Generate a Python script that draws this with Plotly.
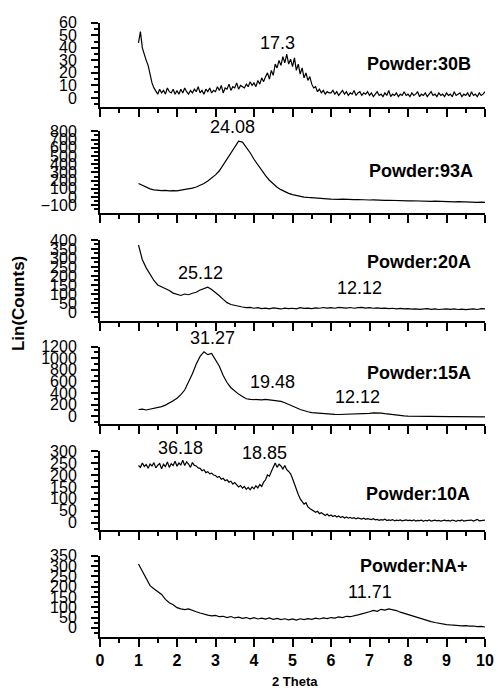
import plotly.graph_objects as go

# ---------------- data ----------------
two_theta_fine = [round(1.0 + 0.05 * i, 2) for i in range(181)]   # 1.00 .. 10.00 step 0.05
two_theta = [round(1.0 + 0.1 * i, 1) for i in range(91)]           # 1.0 .. 10.0 step 0.1

counts_30B = [
    44, 53, 40, 34, 30, 26, 18, 12, 8, 5, 3, 7, 4, 6, 3, 8, 5, 4, 7, 3,
    6, 3, 7, 4, 8, 5, 3, 6, 4, 7, 5, 9, 4, 6, 3, 7, 5, 8, 4, 6,
    5, 9, 6, 10, 4, 8, 7, 11, 6, 9, 8, 12, 7, 10, 9, 8, 11, 9, 13, 10,
    12, 9, 14, 11, 16, 13, 17, 20, 15, 22, 18, 27, 24, 30, 26, 33, 28, 35, 27, 31,
    25, 32, 22, 27, 19, 24, 16, 20, 14, 17, 11, 8, 9, 5, 7, 4, 6, 3, 5, 4,
    4, 6, 3, 5, 2, 4, 6, 3, 5, 2, 4, 3, 6, 2, 4, 5, 2, 4, 3, 5,
    2, 4, 1, 3, 5, 2, 3, 1, 4, 2, 6, 1, 3, 2, 4, 1, 3, 2, 5, 2,
    3, 1, 4, 2, 3, 5, 1, 3, 2, 4, 1, 3, 5, 2, 3, 1, 4, 2, 3, 1,
    4, 2, 3, 1, 5, 2, 3, 4, 1, 3, 2, 4, 1, 5, 2, 3, 1, 4, 2, 3,
    5,
]

counts_93A = [
    165, 140, 115, 100, 88, 82, 78, 80, 74, 78,
    76, 84, 90, 98, 108, 122, 140, 165, 195, 230,
    270, 320, 390, 470, 540, 610, 680, 670, 610, 540,
    460, 390, 320, 260, 205, 160, 120, 90, 65, 45,
    30, 18, 8, 0, -5, -10, -14, -17, -20, -22,
    -25, -22, -28, -26, -30, -28, -32, -30, -34, -33,
    -36, -34, -38, -36, -40, -39, -42, -41, -44, -43,
    -46, -45, -48, -47, -50, -49, -52, -51, -54, -53,
    -56, -55, -58, -57, -60, -59, -62, -61, -64, -63,
    -66,
]

counts_20A = [
    372, 290, 245, 210, 175, 150, 140, 128, 120, 105,
    100, 92, 100, 96, 104, 110, 122, 132, 138, 125,
    110, 90, 70, 52, 42, 36, 30, 28, 24, 26,
    21, 24, 19, 22, 18, 23, 20, 17, 22, 19,
    21, 18, 24, 20, 22, 19, 23, 21, 25, 22,
    24, 21, 26, 23, 22, 25, 21, 24, 26, 22,
    24, 21, 23, 20, 22, 19, 21, 18, 20, 17,
    19, 16, 18, 15, 17, 19, 15, 17, 14, 16,
    18, 15, 17, 14, 16, 13, 15, 17, 14, 19,
    17,
]

counts_15A = [
    114, 120, 106, 118, 128, 143, 165, 190, 225, 265,
    310, 370, 450, 580, 730, 900, 1030, 1110, 1060, 1080,
    980, 860, 700, 580, 490, 430, 380, 340, 300, 290,
    285, 290, 282, 288, 280, 275, 270, 255, 230, 205,
    175, 145, 115, 90, 75, 62, 55, 48, 42, 38,
    32, 30, 28, 30, 27, 30, 32, 34, 38, 42,
    48, 55, 58, 52, 42, 32, 22, 15, 8, 4,
    0, -2, -4, -3, -6, -5, -7, -6, -8, -7,
    -8, -9, -8, -10, -9, -10, -11, -10, -12, -11,
    -12,
]

counts_10A = [
    240, 232, 250, 236, 244, 228, 246, 238, 252, 230, 241, 248, 226, 245, 235, 255, 232, 247, 240, 258,
    237, 250, 242, 262, 240, 255, 246, 232, 252, 240, 238, 230, 228, 218, 222, 210, 214, 205, 208, 200,
    198, 190, 194, 182, 186, 176, 180, 170, 174, 162, 168, 158, 150, 156, 145, 152, 140, 148, 138, 150,
    142, 155, 146, 160, 152, 170, 180, 200, 195, 215, 230, 250, 232, 245, 238, 225, 240, 222, 215, 205,
    185, 160, 140, 118, 100, 90, 78, 84, 66, 60, 55, 50, 44, 48, 38, 42, 35, 30, 36, 28,
    32, 26, 30, 24, 28, 22, 26, 20, 24, 19, 22, 18, 21, 16, 20, 17, 15, 19, 14, 17,
    15, 13, 17, 12, 14, 10, 13, 11, 15, 9, 12, 10, 13, 8, 11, 9, 12, 8, 10, 12,
    9, 11, 8, 12, 7, 10, 9, 11, 6, 10, 8, 12, 7, 9, 11, 8, 10, 7, 9, 11,
    8, 10, 7, 11, 9, 6, 10, 8, 12, 7, 9, 10, 8, 11, 7, 9, 14, 8, 10, 9,
    11,
]

counts_NA = [
    310, 275, 235, 205, 190, 175, 162, 138, 122, 112,
    98, 92, 88, 92, 84, 78, 72, 66, 62, 58,
    60, 54, 56, 50, 55, 48, 52, 46, 50, 44,
    49, 43, 47, 42, 48, 41, 46, 40, 44, 39,
    43, 38, 44, 40, 45, 41, 47, 43, 48, 45,
    50, 47, 53, 50, 56, 54, 60, 63, 68, 72,
    78, 85, 80, 90, 86, 92, 88, 84, 76, 70,
    64, 58, 52, 46, 42, 36, 30, 26, 22, 18,
    16, 14, 12, 13, 10, 11, 8, 9, 6, 7,
    4,
]

panel_names = ["Powder:30B", "Powder:93A", "Powder:20A", "Powder:15A", "Powder:10A", "Powder:NA+"]
panel_x = [two_theta_fine, two_theta, two_theta, two_theta, two_theta_fine, two_theta]
panel_y = [counts_30B, counts_93A, counts_20A, counts_15A, counts_10A, counts_NA]
y_ranges = [[-7, 60], [-198, 800], [-49, 400], [-144, 1200], [-31, 300], [-43, 350]]
y_dticks = [10, 100, 50, 200, 50, 50]
y_minor = [5, 50, 25, 100, 25, 25]
# label positions: (x in 2-theta units, y in figure pixels)
name_pos = [(9.69, 57), (9.74, 165), (9.69, 257), (9.69, 370), (9.66, 492), (9.61, 565)]
peak_labels = [
    [("17.3", 4.6, 35)],
    [("24.08", 3.45, 121)],
    [("25.12", 2.62, 269), ("12.12", 6.75, 284)],
    [("31.27", 2.92, 334), ("19.48", 4.47, 379), ("12.12", 6.7, 394)],
    [("36.18", 2.1, 446), ("18.85", 4.27, 451)],
    [("11.71", 7.0, 592)],
]
x_ticks = list(range(0, 11))

# ---------------- layout geometry (pixels) ----------------
W, H = 502, 690
panel_px = [(15, 100), (125, 208), (235, 317), (343, 422), (449, 529), (555, 637)]
FONT = "Liberation Sans, Arial, sans-serif"

fig = go.Figure()
layout = dict(
    width=W, height=H,
    margin=dict(l=100, r=17, t=0, b=0),
    paper_bgcolor="white", plot_bgcolor="white",
    showlegend=False,
    font=dict(family=FONT, color="black"),
)
annotations = []

for i in range(6):
    k = "" if i == 0 else str(i + 1)
    top, bot = panel_px[i]
    fig.add_trace(go.Scatter(
        x=panel_x[i], y=panel_y[i], mode="lines",
        line=dict(color="black", width=1.2),
        xaxis="x" + k, yaxis="y" + k, hoverinfo="skip",
    ))
    last = (i == 5)
    layout["xaxis" + k] = dict(
        domain=[0, 1], anchor="y" + k, range=[0, 10],
        tickmode="array", tickvals=x_ticks,
        ticks="outside", ticklen=8, tickwidth=1.5, tickcolor="black",
        minor=dict(dtick=0.5, tick0=0, ticks="outside", ticklen=4, tickwidth=1.5, tickcolor="black"),
        showline=True, linewidth=2, linecolor="black",
        showgrid=False, zeroline=False,
        showticklabels=last,
        tickfont=dict(family=FONT, size=16, color="black", weight="bold"),
        fixedrange=True,
    )
    layout["yaxis" + k] = dict(
        domain=[1 - bot / H, 1 - top / H], anchor="x" + k, range=y_ranges[i],
        tick0=0, dtick=y_dticks[i],
        ticks="outside", ticklen=7, tickwidth=1.5, tickcolor="black",
        minor=dict(dtick=y_minor[i], tick0=0, ticks="outside", ticklen=4, tickwidth=1.5, tickcolor="black"),
        showline=True, linewidth=2, linecolor="black",
        showgrid=False, zeroline=False,
        tickfont=dict(family=FONT, size=16, color="black"),
        ticklabelstandoff=11,
        fixedrange=True,
    )
    nx, ny = name_pos[i]
    annotations.append(dict(
        x=nx, y=1 - ny / H, xref="x" + k, yref="paper", text=panel_names[i],
        showarrow=False, xanchor="right", yanchor="middle",
        font=dict(family=FONT, size=18, color="black", weight="bold"),
    ))
    for txt, px_, py_ in peak_labels[i]:
        annotations.append(dict(
            x=px_, y=1 - py_ / H, xref="x" + k, yref="paper", text=txt,
            showarrow=False, xanchor="center", yanchor="middle",
            font=dict(family=FONT, size=18, color="black"),
        ))

annotations.append(dict(
    x=(18 - 100) / 385, y=1 - 300 / H, xref="paper", yref="paper",
    text="Lin(Counts)", textangle=-90, showarrow=False,
    xanchor="center", yanchor="middle",
    font=dict(family=FONT, size=17, color="black", weight="bold"),
))
annotations.append(dict(
    x=(295 - 100) / 385, y=1 - 682 / H, xref="paper", yref="paper",
    text="2 Theta", showarrow=False, xanchor="center", yanchor="middle",
    font=dict(family=FONT, size=13, color="black", weight="bold"),
))
layout["annotations"] = annotations
fig.update_layout(**layout)

fig.write_html(
    "out.html",
    config={"displayModeBar": False},
    post_script="document.body.style.margin='0';document.body.style.overflow='hidden';",
)
